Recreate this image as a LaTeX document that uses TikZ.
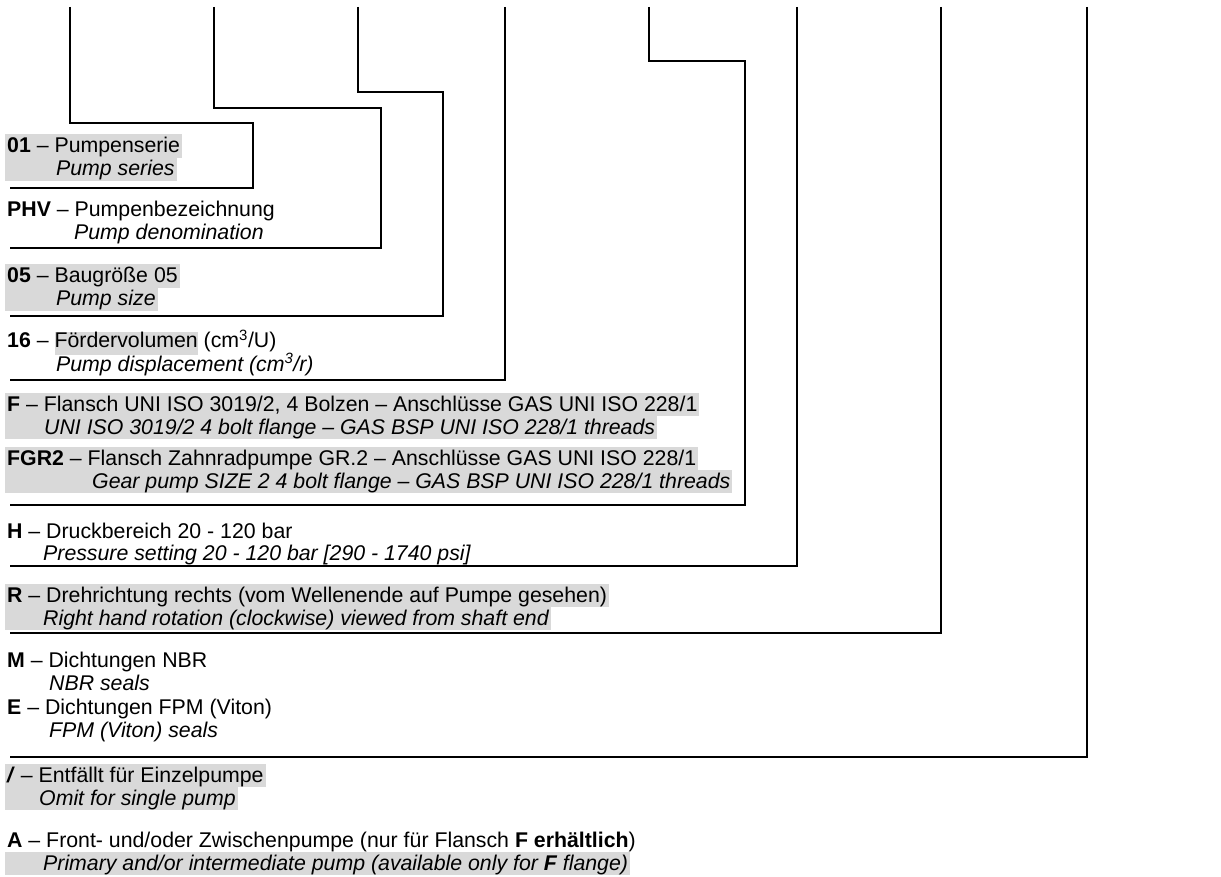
\documentclass[tikz,border=0pt]{standalone}
\usepackage{fontspec}
\setmainfont{Liberation Sans}
\definecolor{hlgray}{RGB}{217,217,217}
\newcommand{\hlword}[1]{{\setlength{\fboxsep}{0pt}\colorbox{hlgray}{\strut #1}}}

\begin{document}
\begin{tikzpicture}[x=1pt,y=-1pt,
    lead/.style={line width=1.8pt},
    txt/.style={anchor=base west, inner xsep=2pt, inner ysep=0pt, text height=18.5pt, text depth=5pt, font=\fontsize{21.3}{23}\selectfont},
    hl/.style={txt, fill=hlgray}]
\path[use as bounding box] (0,0) rectangle (1221,877);

% top ends of the leads
\coordinate (t1) at (70,7);
\coordinate (t2) at (214,7);
\coordinate (t3) at (358,7);
\coordinate (t4) at (505,7);
\coordinate (t5) at (649,7);
\coordinate (t6) at (797,7);
\coordinate (t7) at (941,7);
\coordinate (t8) at (1087,7);
% left ends of the leads
\coordinate (b1) at (10,188);
\coordinate (b2) at (10,248);
\coordinate (b3) at (10,316);
\coordinate (b4) at (10,380);
\coordinate (b5) at (10,505);
\coordinate (b6) at (10,566);
\coordinate (b7) at (10,633);
\coordinate (b8) at (10,757);

%Leads
\draw[lead] (t1) |- (253,123) |- (b1);
\draw[lead] (t2) |- (381,108) |- (b2);
\draw[lead] (t3) |- (443,92) |- (b3);
\draw[lead] (t4) |- (b4);
\draw[lead] (t5) |- (745,61) |- (b5);
\draw[lead] (t6) |- (b6);
\draw[lead] (t7) |- (b7);
\draw[lead] (t8) |- (b8);

% Text Nodes
\node[hl] (s1) at (5,153) {\textbf{01} – Pumpenserie};
\node[hl] (s2) at (5,176) {\hspace*{49pt}\textit{Pump series}};

\node[txt] (n1) at (5,217) {\textbf{PHV} – Pumpenbezeichnung};
\node[txt] (n2) at (5,240) {\hspace*{67pt}\textit{Pump denomination}};

\node[hl] (g1) at (5,283) {\textbf{05} – Baugröße 05};
\node[hl] (g2) at (5,306) {\hspace*{49pt}\textit{Pump size}};

\node[txt] (v1) at (5,348) {\textbf{16} – \hlword{Fördervolumen} (cm\textsuperscript{3}/U)};
\node[txt] (v2) at (5,371) {\hspace*{49pt}\textit{Pump displacement (cm\textsuperscript{3}/r)}};

\node[hl] (f1) at (5,411) {\textbf{F} – Flansch UNI ISO 3019/2, 4 Bolzen – Anschlüsse GAS UNI ISO 228/1};
\node[hl] (f2) at (5,434) {\hspace*{37pt}\textit{UNI ISO 3019/2 4 bolt flange – GAS BSP UNI ISO 228/1 threads}};

\node[hl] (fg1) at (5,465) {\textbf{FGR2} – Flansch Zahnradpumpe GR.2 – Anschlüsse GAS UNI ISO 228/1};
\node[hl] (fg2) at (5,488) {\hspace*{85pt}\textit{Gear pump SIZE 2 4 bolt flange – GAS BSP UNI ISO 228/1 threads}};

\node[txt] (p1) at (5,538) {\textbf{H} – Druckbereich 20 - 120 bar};
\node[txt] (p2) at (5,560) {\hspace*{36pt}\textit{Pressure setting 20 - 120 bar [290 - 1740 psi]}};

\node[hl] (r1) at (5,602) {\textbf{R} – Drehrichtung rechts (vom Wellenende auf Pumpe gesehen)};
\node[hl] (r2) at (5,625) {\hspace*{36pt}\textit{Right hand rotation (clockwise) viewed from shaft end}};

\node[txt] (m1) at (5,667) {\textbf{M} – Dichtungen NBR};
\node[txt] (m2) at (5,690) {\hspace*{42pt}\textit{NBR seals}};

\node[txt] (e1) at (5,714) {\textbf{E} – Dichtungen FPM (Viton)};
\node[txt] (e2) at (5,737) {\hspace*{42pt}\textit{FPM (Viton) seals}};

\node[hl] (o1) at (5,782) {\textbf{\textit{/}} – Entfällt für Einzelpumpe};
\node[hl] (o2) at (5,805) {\hspace*{32pt}\textit{Omit for single pump}};

\node[txt] (a1) at (5,847) {\textbf{A} – Front- und/oder Zwischenpumpe (nur für Flansch \textbf{F erhältlich})};
\node[hl] (a2) at (5,870) {\hspace*{36pt}\textit{Primary and/or intermediate pump (available only for \textbf{F} flange)}};

\end{tikzpicture}
\end{document}
